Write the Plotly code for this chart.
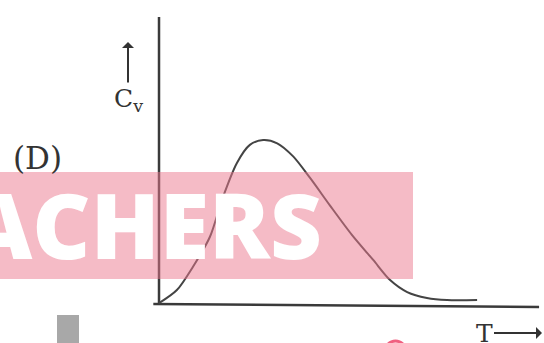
import plotly.graph_objects as go

# Cv vs T curve (T and Cv in arbitrary units)
T = [0, 0.47, 0.89, 1.34, 1.68, 2.05, 2.39, 2.74, 3.11, 3.53, 3.97, 4.5, 5.08, 5.63, 6.08, 6.53, 7.05, 7.58, 8.37]
Cv = [0.005, 0.085, 0.226, 0.41, 0.65, 0.86, 0.97, 1.0, 0.98, 0.90, 0.77, 0.60, 0.42, 0.27, 0.146, 0.073, 0.037, 0.024, 0.024]

# axis lines
xaxis_T = [-0.15, 10.0]
xaxis_Cv = [0.0, -0.018]
yaxis_T = [0.0, 0.0]
yaxis_Cv = [0.0, 1.75]

ink = "#3a3a3a"
serif = "DejaVu Serif, Liberation Serif, serif"

fig = go.Figure()
fig.add_trace(go.Scatter(x=xaxis_T, y=xaxis_Cv, mode="lines",
                         line=dict(color=ink, width=2.5), hoverinfo="skip"))
fig.add_trace(go.Scatter(x=yaxis_T, y=yaxis_Cv, mode="lines",
                         line=dict(color=ink, width=2.5), hoverinfo="skip"))
fig.add_trace(go.Scatter(x=T, y=Cv, mode="lines", line=dict(color="#444", width=2, shape="spline", smoothing=0.8),
                         hoverinfo="skip"))

# watermark band
fig.add_shape(type="rect", xref="paper", yref="paper", x0=0, x1=413/544, y0=1-279/343, y1=1-172/343,
              fillcolor="rgba(236,120,142,0.5)", line_width=0, layer="above")
fig.add_annotation(text="ACHERS", xref="paper", yref="paper", x=324/544, y=1-224/343,
                   xanchor="right", yanchor="middle", showarrow=False,
                   font=dict(family="Open Sans, Lato, sans-serif", size=90, color="white", weight=800))

# bits of the scan at the bottom
fig.add_shape(type="rect", xref="paper", yref="paper", x0=57/544, x1=79/544, y0=0, y1=1-315/343,
              fillcolor="#a8a8a8", line_width=0, layer="above")
fig.add_shape(type="circle", xref="paper", yref="paper", x0=385/544, x1=406/544, y0=1-362/343, y1=1-341/343,
              fillcolor="rgba(0,0,0,0)", line=dict(color="#f06080", width=3), layer="above")

# labels
fig.add_annotation(text="(D)", xref="paper", yref="paper", x=37/544, y=1-158/343,
                   xanchor="center", yanchor="middle",
                   showarrow=False, font=dict(family=serif, size=31, color="#333"))
fig.add_annotation(text="C<sub>v</sub>", xref="paper", yref="paper", x=128/544, y=1-42/343, ax=0, ay=58,
                   showarrow=True, arrowhead=1, arrowsize=1, arrowwidth=2, arrowcolor="#333",
                   font=dict(family=serif, size=25, color="#333"))
fig.add_annotation(text="T", xref="paper", yref="paper", x=542/544, y=1-333/343, ax=-58, ay=0,
                   showarrow=True, arrowhead=1, arrowsize=1, arrowwidth=2, arrowcolor="#333",
                   font=dict(family=serif, size=25, color="#333"))

fig.update_layout(width=544, height=343, margin=dict(l=0, r=0, t=0, b=0),
                  paper_bgcolor="white", plot_bgcolor="white", showlegend=False,
                  xaxis=dict(range=[-4.184, 10.13], visible=False, fixedrange=True),
                  yaxis=dict(range=[-0.2378, 1.8537], visible=False, fixedrange=True))

fig.write_html("out.html", config=dict(displayModeBar=False),
               post_script="document.body.style.margin='0';")
